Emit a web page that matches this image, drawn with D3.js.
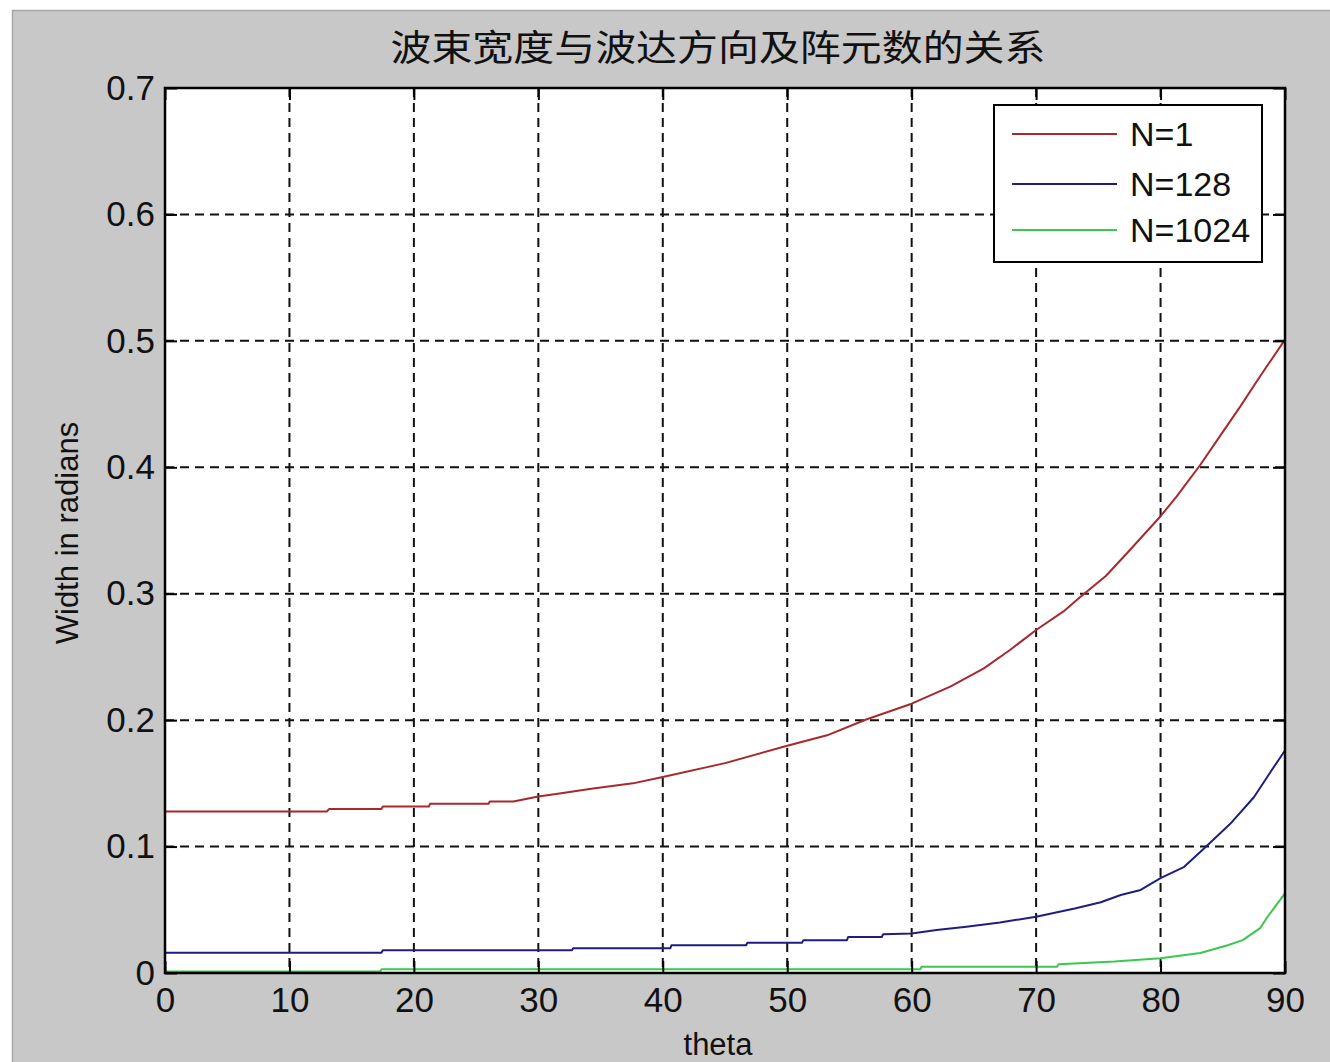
<!DOCTYPE html>
<html>
<head>
<meta charset="utf-8">
<script src="https://cdn.jsdelivr.net/npm/d3@7"></script>
<style>
  html, body { margin: 0; padding: 0; background: #ffffff; }
  svg { display: block; }
</style>
</head>
<body>
<svg id="chart" width="1330" height="1062"></svg>
<script>
// ---------------- data ----------------
const titleText = "波束宽度与波达方向及阵元数的关系";
const xLabel = "theta";
const yLabel = "Width in radians";
const xTicks = [0, 10, 20, 30, 40, 50, 60, 70, 80, 90];
const yTicks = [0, 0.1, 0.2, 0.3, 0.4, 0.5, 0.6, 0.7];
const yTickLabels = ["0", "0.1", "0.2", "0.3", "0.4", "0.5", "0.6", "0.7"];
const seriesNames = ["N=1", "N=128", "N=1024"];
const seriesColors = ["#a8282e", "#1e1e80", "#3cc84e"];

// N=1
const thetaN1 = [0, 13, 13.2, 17.4, 17.5, 21.2, 21.3, 26, 26.1, 28, 30, 31.7, 34.4, 37.6, 40, 45, 50, 53.2, 56.4, 60, 63.1, 65.8, 67.9, 70, 72.2, 73.5, 75.6, 77.3, 80, 81.3, 83.2, 84.8, 86.4, 88, 90];
const widthN1 = [0.1277, 0.1277, 0.1298, 0.1298, 0.1317, 0.1317, 0.1338, 0.1338, 0.1356, 0.1356, 0.1396, 0.142, 0.146, 0.150, 0.155, 0.166, 0.1797, 0.188, 0.2007, 0.213, 0.2265, 0.241, 0.2555, 0.2713, 0.286, 0.297, 0.314, 0.332, 0.3613, 0.377, 0.402, 0.425, 0.448, 0.472, 0.501];
// N=128
const thetaN128 = [0, 17.4, 17.5, 32.7, 32.8, 40.6, 40.7, 46.7, 46.8, 51.2, 51.3, 54.8, 54.9, 57.6, 57.7, 60, 62, 64.4, 67.1, 70, 73.1, 75.2, 76.8, 78.4, 80, 81.9, 83.6, 85.6, 87.5, 88.9, 90];
const widthN128 = [0.0161, 0.0161, 0.018, 0.018, 0.0195, 0.0195, 0.022, 0.022, 0.024, 0.024, 0.026, 0.026, 0.0285, 0.0285, 0.0306, 0.0313, 0.034, 0.0366, 0.040, 0.0445, 0.051, 0.056, 0.0617, 0.0657, 0.075, 0.084, 0.0995, 0.118, 0.139, 0.16, 0.176];
// N=1024
const thetaN1024 = [0, 17.3, 17.4, 60.7, 60.8, 71.7, 71.8, 76.3, 80, 83.2, 85.4, 86.6, 88, 88.6, 90];
const widthN1024 = [0.0012, 0.0012, 0.003, 0.003, 0.005, 0.005, 0.007, 0.009, 0.0116, 0.0158, 0.022, 0.026, 0.0355, 0.0445, 0.063];

const seriesThetas = [thetaN1, thetaN128, thetaN1024];
const seriesWidths = [widthN1, widthN128, widthN1024];

// ---------------- layout ----------------
const svg = d3.select("#chart");
const W = 1330, H = 1062;
const plot = { left: 165, top: 88, right: 1285, bottom: 973 };

// figure background
svg.append("rect").attr("x", 12).attr("y", 10).attr("width", W - 12).attr("height", H - 10)
  .attr("fill", "#c8c8c8");
svg.append("path").attr("d", `M12.5,${H} V10.5 H${W}`).attr("fill", "none")
  .attr("stroke", "#a6a6a6").attr("stroke-width", 1.5);

const x = d3.scaleLinear().domain([0, 90]).range([plot.left, plot.right]);
const y = d3.scaleLinear().domain([0, 0.7]).range([plot.bottom, plot.top]);

// plot area
svg.append("rect").attr("x", plot.left).attr("y", plot.top)
  .attr("width", plot.right - plot.left).attr("height", plot.bottom - plot.top)
  .attr("fill", "#ffffff");

// grid
const grid = svg.append("g").attr("stroke", "#111").attr("stroke-width", 2)
  .attr("stroke-dasharray", "9,6");
grid.selectAll("line.vx").data(xTicks.slice(1, -1)).join("line")
  .attr("x1", d => x(d)).attr("x2", d => x(d))
  .attr("y1", plot.top).attr("y2", plot.bottom);
grid.selectAll("line.hy").data(yTicks.slice(1, -1)).join("line")
  .attr("x1", plot.left).attr("x2", plot.right)
  .attr("y1", d => y(d)).attr("y2", d => y(d));

// series lines
const line = d3.line().x(d => x(d[0])).y(d => y(d[1]));
seriesThetas.forEach((th, i) => {
  const pts = th.map((t, k) => [t, seriesWidths[i][k]]);
  svg.append("path").datum(pts).attr("d", line)
    .attr("fill", "none").attr("stroke", seriesColors[i])
    .attr("stroke-width", 2).attr("stroke-linejoin", "round");
});

// axes
const tickFont = "'Liberation Sans', Arial, sans-serif";
const styleAxis = g => {
  g.select(".domain").remove();
  g.selectAll(".tick line").attr("stroke", "#000").attr("stroke-width", 2);
  g.selectAll(".tick text").attr("fill", "#111").style("font-family", tickFont).style("font-size", "35px");
};
svg.append("g").attr("transform", `translate(0,${plot.bottom})`)
  .call(d3.axisBottom(x).tickValues(xTicks).tickSize(-12).tickPadding(14).tickFormat(d => String(d)))
  .call(styleAxis);
svg.append("g").attr("transform", `translate(${plot.left},0)`)
  .call(d3.axisLeft(y).tickValues(yTicks).tickSize(-12).tickPadding(10).tickFormat((d, i) => yTickLabels[i]))
  .call(styleAxis);
svg.append("g").attr("transform", `translate(0,${plot.top})`)
  .call(d3.axisTop(x).tickValues(xTicks).tickSize(-12).tickFormat(""))
  .call(styleAxis);
svg.append("g").attr("transform", `translate(${plot.right},0)`)
  .call(d3.axisRight(y).tickValues(yTicks).tickSize(-12).tickFormat(""))
  .call(styleAxis);

// axes box
svg.append("rect").attr("x", plot.left).attr("y", plot.top)
  .attr("width", plot.right - plot.left).attr("height", plot.bottom - plot.top)
  .attr("fill", "none").attr("stroke", "#000").attr("stroke-width", 2.5);

// title
svg.append("text").attr("x", 718).attr("y", 61).attr("text-anchor", "middle")
  .attr("textLength", 655).attr("lengthAdjust", "spacingAndGlyphs")
  .style("font-family", "'Noto Sans CJK SC', sans-serif").style("font-size", "36px")
  .attr("fill", "#111").text(titleText);

// axis labels
svg.append("text").attr("x", 718).attr("y", 1055).attr("text-anchor", "middle")
  .style("font-family", tickFont).style("font-size", "31px").attr("fill", "#111").text(xLabel);
svg.append("text").attr("transform", "translate(78,533) rotate(-90)").attr("text-anchor", "middle")
  .style("font-family", tickFont).style("font-size", "31px").attr("fill", "#111").text(yLabel);

// legend
const lg = svg.append("g");
lg.append("rect").attr("x", 994).attr("y", 105).attr("width", 268).attr("height", 157)
  .attr("fill", "#ffffff").attr("stroke", "#000").attr("stroke-width", 2);
const rowY = [134, 184, 230];
seriesNames.forEach((name, i) => {
  lg.append("line").attr("x1", 1012).attr("x2", 1117).attr("y1", rowY[i]).attr("y2", rowY[i])
    .attr("stroke", seriesColors[i]).attr("stroke-width", 2);
  lg.append("text").attr("x", 1130).attr("y", rowY[i] + 12)
    .style("font-family", tickFont).style("font-size", "34px").attr("fill", "#111").text(name);
});
</script>
</body>
</html>
